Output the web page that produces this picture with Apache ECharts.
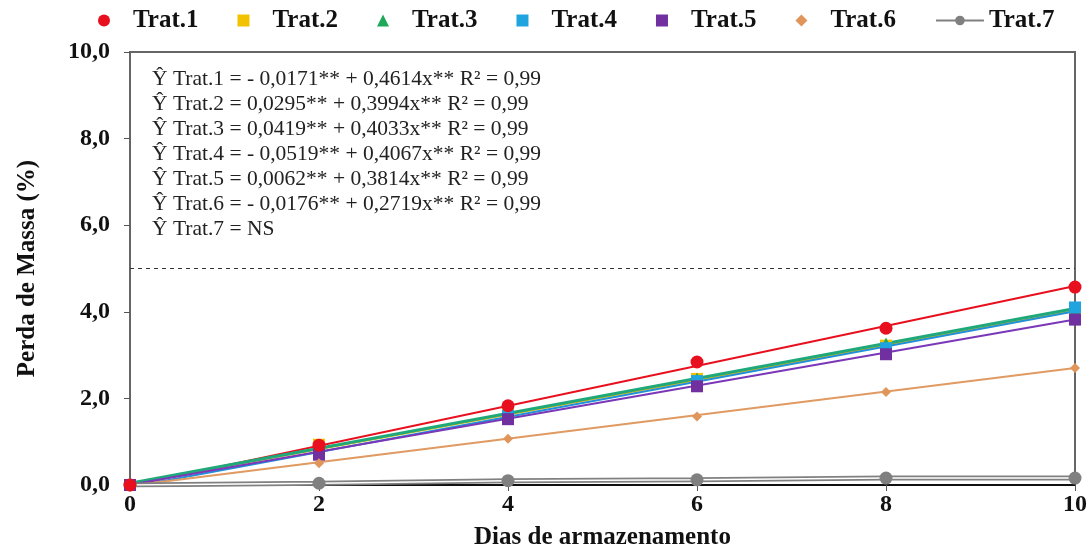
<!DOCTYPE html>
<html>
<head>
<meta charset="utf-8">
<script src="https://cdn.jsdelivr.net/npm/echarts@6/dist/echarts.min.js"></script>
<style>html,body{margin:0;padding:0;background:#fff;}#c{width:1090px;height:548px;}</style>
</head>
<body>
<div id="c"></div>
<script>
var days = [0, 2, 4, 6, 8, 10];
var names = ['Trat.1', 'Trat.2', 'Trat.3', 'Trat.4', 'Trat.5', 'Trat.6', 'Trat.7'];
var trat1 = [0, 0.92, 1.83, 2.84, 3.62, 4.57];
var trat2 = [0, 0.93, 1.65, 2.45, 3.22, 4.05];
var trat3 = [0, 0.85, 1.70, 2.47, 3.28, 4.05];
var trat4 = [0, 0.80, 1.60, 2.40, 3.16, 4.10];
var trat5 = [0, 0.70, 1.52, 2.28, 3.02, 3.82];
var trat6 = [0, 0.50, 1.07, 1.58, 2.15, 2.70];
var trat7 = [0, 0.04, 0.10, 0.12, 0.16, 0.16];
// regression line end values at day 0 and day 10 (from the equations)
var fitAt0 = [-0.017, 0.030, 0.042, -0.052, 0.006, -0.018];
var fitAt10 = [4.597, 4.024, 4.075, 4.015, 3.820, 2.701];
var equations = [
  'Ŷ Trat.1 = - 0,0171** + 0,4614x** R² = 0,99',
  'Ŷ Trat.2 = 0,0295** + 0,3994x** R² = 0,99',
  'Ŷ Trat.3 = 0,0419** + 0,4033x** R² = 0,99',
  'Ŷ Trat.4 = - 0,0519** + 0,4067x** R² = 0,99',
  'Ŷ Trat.5 = 0,0062** + 0,3814x** R² = 0,99',
  'Ŷ Trat.6 = - 0,0176** + 0,2719x** R² = 0,99',
  'Ŷ Trat.7 = NS'
];

var colors = ['#e8101f', '#f2c200', '#1fa85a', '#20a4e0', '#7030a0', '#e0955a', '#808080'];
var lineColors = ['#e8101f', '#e8b800', '#1fa87a', '#2090d8', '#7a38b8', '#e09a62'];
var symbols = ['circle', 'rect', 'triangle', 'rect', 'rect', 'diamond'];
var legendIcons = [
  'path://M5,0A5,5,0,1,1,5,10A5,5,0,1,1,5,0Z',
  'path://M0,0L10,0L10,10L0,10Z',
  'path://M5,0L10,10L0,10Z',
  'path://M0,0L10,0L10,10L0,10Z',
  'path://M0,0L10,0L10,10L0,10Z',
  'path://M5,0L10,5L5,10L0,5Z'
];
var sizes = [13, 12, 11, 12, 12, 10];
var lineWidths = [2, 2, 3, 2, 2, 2];
var allData = [trat1, trat2, trat3, trat4, trat5, trat6];

function pairs(arr) { return days.map(function (d, i) { return [d, arr[i]]; }); }

var serif = 'Liberation Serif';
var series = [];
for (var i = 0; i < 6; i++) {
  series.push({
    type: 'line', name: 'fit' + (i + 1), silent: true, symbol: 'none',
    data: [[0, fitAt0[i]], [10, fitAt10[i]]],
    lineStyle: { color: lineColors[i], width: lineWidths[i] }, z: 2
  });
}
series.push({
  type: 'line', name: 'Trat.7', data: pairs(trat7), symbol: 'circle', symbolSize: 13,
  itemStyle: { color: '#808080' }, lineStyle: { color: '#808080', width: 5 }, z: 2
});
series.push({
  type: 'line', name: 'w7', silent: true, data: pairs(trat7), symbol: 'none',
  lineStyle: { color: '#ffffff', width: 1.5 }, z: 2
});
for (var j = 0; j < 6; j++) {
  series.push({
    type: 'scatter', name: names[j], data: pairs(allData[j]), symbol: symbols[j],
    symbolSize: sizes[j], itemStyle: { color: colors[j], opacity: 1 }, z: j === 0 ? 4 : 3
  });
}
series.push({
  type: 'line', name: 'ref', silent: true, data: [], symbol: 'none',
  markLine: {
    silent: true, symbol: 'none', label: { show: false },
    lineStyle: { color: '#333', type: [4, 4], width: 1 },
    data: [{ yAxis: 5 }]
  }
});

var legendData = names.map(function (n, k) {
  return k < 6 ? { name: n, icon: legendIcons[k] } : { name: n };
});

var chart = echarts.init(document.getElementById('c'));
chart.setOption({
  animation: false,
  backgroundColor: '#fff',
  grid: {
    left: 130, right: 15, top: 52, bottom: 63, show: true, borderColor: '#666', borderWidth: 2,
    outerBoundsMode: 'none', containLabel: false
  },
  legend: {
    data: legendData, top: 3, left: 93, itemWidth: 48, itemHeight: 12, itemGap: 39,
    symbolKeepAspect: true,
    textStyle: { fontFamily: serif, fontWeight: 'bold', fontSize: 25, color: '#111' }
  },
  xAxis: {
    type: 'value', min: 0, max: 10, interval: 2,
    name: 'Dias de armazenamento', nameLocation: 'middle', nameGap: 40,
    nameTextStyle: { fontFamily: serif, fontWeight: 'bold', fontSize: 25, color: '#111' },
    axisLine: { show: true, lineStyle: { color: '#111', width: 2 } },
    axisTick: { show: true, length: 6, lineStyle: { color: '#555', width: 1 } },
    axisLabel: { margin: 8, fontFamily: serif, fontWeight: 'bold', fontSize: 24, color: '#111' },
    splitLine: { show: false }
  },
  yAxis: {
    type: 'value', min: 0, max: 10, interval: 2,
    name: 'Perda de Massa (%)', nameLocation: 'middle', nameGap: 90,
    nameTextStyle: { fontFamily: serif, fontWeight: 'bold', fontSize: 25, color: '#111' },
    axisLine: { show: true, lineStyle: { color: '#666', width: 2 } },
    axisTick: { show: true, length: 6, lineStyle: { color: '#555', width: 1 } },
    axisLabel: {
      margin: 20, fontFamily: serif, fontWeight: 'bold', fontSize: 24, color: '#111',
      formatter: function (v) { return v.toFixed(1).replace('.', ','); }
    },
    splitLine: { show: false }
  },
  graphic: [{
    type: 'text', left: 152, top: 67, silent: true,
    style: { text: equations.join('\n'), font: '21.5px "Liberation Serif"', fill: '#222', lineHeight: 25 }
  }],
  series: series
});
</script>
</body>
</html>
